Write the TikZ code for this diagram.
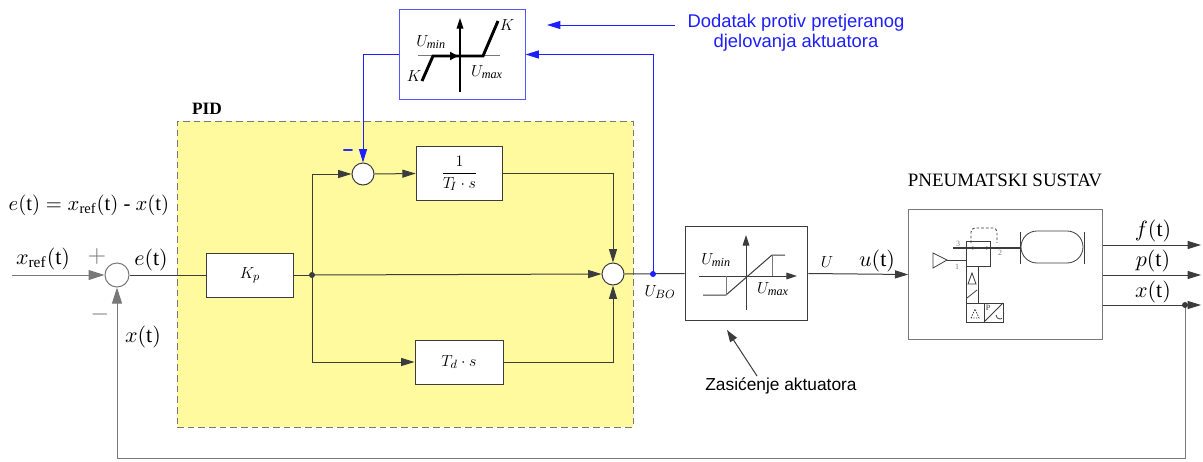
\documentclass[tikz,border=0pt]{standalone}
\usepackage{fontspec}
\setmainfont{Liberation Serif}
\newfontfamily\arialf{Liberation Sans}
\usetikzlibrary{arrows.meta}
\definecolor{pidyellow}{RGB}{255,250,158}
\definecolor{lblue}{RGB}{30,30,255}
\definecolor{boxblue}{RGB}{85,85,255}
\definecolor{ln}{RGB}{60,60,60}
\definecolor{lg}{RGB}{120,120,120}
\begin{document}
\begin{tikzpicture}[x=0.75pt,y=-0.75pt,
  line width=0.75pt,
  arr/.style={draw=ln,-{Triangle[length=10pt,width=6pt]}},
  bigarr/.style={draw=lg,-{Triangle[length=12pt,width=7.5pt]}},
  barr/.style={draw=lblue,-{Triangle[length=10pt,width=6pt]}},
  blk/.style={fill=white,inner sep=0pt},
  sumc/.style={circle,draw=ln,fill=white,inner sep=0pt},
  lbl/.style={inner sep=0pt,scale=1.65},
  blbl/.style={font=\fontsize{13}{15}\selectfont,inner sep=0pt},
  sml/.style={font=\fontsize{6}{7}\selectfont,inner sep=0pt,text=lg},
  dot/.style={circle,fill=#1,inner sep=0pt,minimum size=4.5pt},
  ]
\useasboundingbox (0,0) rectangle (1203,461);

% PID region
\node[draw=lg,dash pattern=on 5pt off 3pt,fill=pidyellow,minimum width=342pt,minimum height=229.5pt,inner sep=0pt] (pid) at (405,274) {};
\node[font=\bfseries\fontsize{13}{15}\selectfont,inner sep=0pt] (pidl) at (207,109) {PID};

% blocks
\node[sumc,draw=lg,minimum size=18pt] (s1) at (117,275) {};
\node[blk,draw=ln,minimum width=65pt,minimum height=33pt] (kp) at (250,275) {};
\node[blbl] at (kp) {$K_p$};
\node[sumc,minimum size=16.5pt] (s2) at (363,174) {};
\node[blk,draw=ln,minimum width=65pt,minimum height=40pt] (ti) at (459.5,173.5) {};
\node[blbl] at (ti) {$\displaystyle\frac{1}{T_{\!I}\cdot s}$};
\node[blk,draw=ln,minimum width=66pt,minimum height=33pt] (td) at (459,362) {};
\node[blbl] at (td) {$T_d\cdot s$};
\node[sumc,minimum size=16.5pt] (s3) at (613,274) {};
\node[blk,draw=ln,minimum width=92pt,minimum height=70pt] (sat) at (746.5,273.5) {};
\node[blk,draw=boxblue,minimum width=94.5pt,minimum height=68pt] (top) at (462,54.5) {};
\node[blk,draw=lg,minimum width=145pt,minimum height=97pt] (pn) at (1005.5,274.5) {};
\node[font=\fontsize{14.2}{16}\selectfont,inner sep=0pt] (pnl) at (1005,180) {PNEUMATSKI SUSTAV};

% coordinates
\coordinate (in) at (12,275);
\coordinate (br) at (312,275);
\coordinate (ubo) at (653,274);
\coordinate (o1) at (1201,245);
\coordinate (o2) at (1201,275);
\coordinate (o3) at (1201,305);
\coordinate (fb) at (1185,305);

% connectors
\draw[bigarr] (in) -- (s1.west);
\draw[draw=ln] (s1.east) -- (kp.west);
\draw[draw=ln] (kp.east) -- (br);
\draw[arr] (br) |- (s2.west);
\draw[arr] (s2.east) -- (ti.west);
\draw[arr] (ti.east) -| (s3.north);
\draw[arr] (br) -- (s3.west);
\draw[arr] (br) |- (td.west);
\draw[arr] (td.east) -| (s3.south);
\draw[draw=ln] (s3.east) -- (sat.west);
\draw[arr] (sat.east) -- (pn.west);
\draw[arr] (pn.east |- o1) -- (o1);
\draw[arr] (pn.east |- o2) -- (o2);
\draw[arr] (pn.east |- o3) -- (o3);
\draw[bigarr] (fb) -- ++(0,153) -| (s1.south);
\node[dot=ln] at (br) {};
\node[dot=ln] at (fb) {};

% blue anti-windup
\draw[barr] (ubo) |- (top.east);
\draw[barr] (top.west) -| (s2.north);
\node[dot=lblue] at (ubo) {};
\node[font=\arialf\fontsize{13.8}{16}\selectfont,text=lblue,inner sep=0pt] (d1) at (796,23) {Dodatak protiv pretjeranog};
\node[font=\arialf\fontsize{13.8}{16}\selectfont,text=lblue,inner sep=0pt] (d2) at (796,43) {djelovanja aktuatora};
\coordinate (la) at (547,25);
\coordinate (lb) at (675,25);
\draw[barr] (lb) -- (la);
\node[font=\arialf\bfseries\fontsize{14}{15}\selectfont,text=lblue,inner sep=0pt] (bm) at (348,153) {–};

% top box content
\draw[lg] (418,55) -- (500,55);
\draw[-{Triangle[length=8pt,width=5pt]},line width=0.9pt] (460,92) -- (460,18);
\draw[line width=2.2pt] (422,81) -- (433,56) -- (483,56) -- (498,21);
\draw[line width=2.2pt,-{Triangle[length=6pt,width=6pt]}] (433,56) -- (458,56);
\node[blbl] at (414,76) {$K$};
\node[blbl] at (507,25) {$K$};
\node[blbl] at (431,42) {$U_{\mathit{min}}$};
\node[blbl] at (487,72) {$U_{\mathit{max}}$};

% saturation content
\draw[ln,-{Triangle[length=8pt,width=5pt]}] (746,310) -- (746,235);
\draw[ln,-{Triangle[length=8pt,width=5pt]}] (699,276) -- (797,276);
\draw[ln] (703,295) -- (726,295) -- (772,255) -- (785,255);
\draw[lg] (726,295) -- (726,276);
\draw[lg] (772,255) -- (772,276);
\node[blbl] at (716,260) {$U_{\mathit{min}}$};
\node[blbl] at (773,289) {$U_{\mathit{max}}$};

% labels
\node[lbl] (xref) at (43,259) {$x_{\mathrm{ref}}(\mathrm{t})$};
\node[lbl] (et) at (151,260) {$e(\mathrm{t})$};
\node[inner sep=0pt,scale=1.55] (eq) at (89,205) {$e(\mathrm{t}) = x_{\mathrm{ref}}(\mathrm{t})$ - $x(\mathrm{t})$};
\node[inner sep=0pt,scale=1.8,text=lg] (plus) at (97,256) {$+$};
\node[inner sep=0pt,scale=1.8,text=lg] (minus) at (100,314) {$-$};
\node[lbl] (xt) at (143,337) {$x(\mathrm{t})$};
\node[blbl] (uboL) at (660,292) {$U_{BO}$};
\node[blbl] (uL) at (827,262) {$U$};
\node[lbl] (utL) at (877,261) {$u(\mathrm{t})$};
\node[lbl] (ftL) at (1153,231) {$f(\mathrm{t})$};
\node[lbl] (ptL) at (1153,261) {$p(\mathrm{t})$};
\node[lbl] (xtL) at (1153,292) {$x(\mathrm{t})$};

% Zasicenje
\node[font=\arialf\fontsize{13}{15}\selectfont,inner sep=0pt] (zas) at (781,386) {Zasićenje aktuatora};
\coordinate (za) at (757,376);
\coordinate (zb) at (727,330);
\draw[draw=ln,-{Triangle[length=9pt,width=6pt]}] (za) -- (zb);

% pneumatic symbol
\begin{scope}[draw=ln,line width=0.6pt]
\draw (933,253) -- (947,260) -- (933,268) -- cycle;
\draw (947,260) -- (966,260);
\draw (966,241) rectangle (990,266);
\draw[dash pattern=on 2pt off 1.5pt,rounded corners=3pt] (971,243) |- (997,228) -- (997,243);
\draw[line width=1pt] (953,248) -- (1020,248);
\draw[-{Stealth[length=3pt,width=2.5pt]}] (968,248) -- (976,248);
\draw[-{Stealth[length=3pt,width=2.5pt]}] (982,248) -- (990,248);
\draw (1020,232) -- (1020,264);
\draw[rounded corners=12pt] (1021,231) rectangle (1083,263);
\draw (1084,232) -- (1084,264);
\draw (966,266) rectangle (978,303);
\draw (968,284) -- (972,273) -- (976,284) -- cycle;
\draw (967,298) -- (977,290);
\draw (966,303) rectangle (984,322);
\draw (984,303) rectangle (1003,322);
\draw[dash pattern=on 1pt off 1pt] (971,318) -- (975,309) -- (979,318) -- cycle;
\draw (984,322) -- (1003,303);
\draw (996,315) arc[start angle=180,end angle=300,radius=3pt];
\end{scope}
\node[sml] at (957,267) {1};
\node[sml] at (958,244) {3};
\node[sml] at (1000,253) {2};
\node[sml,text=ln] at (988,308) {P};
\end{tikzpicture}
\end{document}
